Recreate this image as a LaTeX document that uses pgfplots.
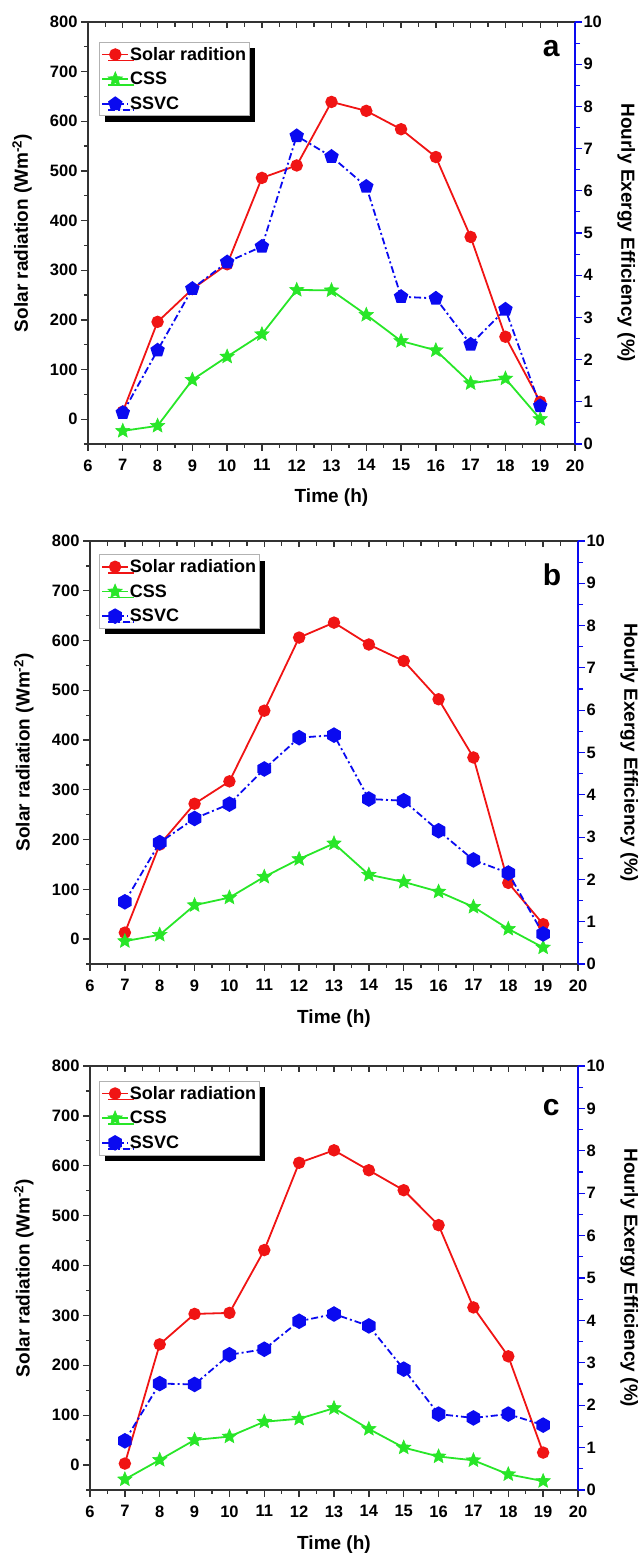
\documentclass[border=0pt]{standalone}
\usepackage{fontspec}
\setmainfont{Liberation Sans}
\usepackage{pgfplots}
\pgfplotsset{compat=1.18}
\usetikzlibrary{shadows}
\definecolor{cred}{RGB}{240,20,20}
\definecolor{cgreen}{RGB}{40,230,40}
\definecolor{cblue}{RGB}{10,10,240}
\newcommand\tickf{\fontsize{16.5}{19}\selectfont\bfseries}
\newcommand\labf{\fontsize{19}{22}\selectfont\bfseries}
\newcommand\legf{\fontsize{18}{21}\selectfont\bfseries}
\pgfdeclareplotmark{hexa}{%
  \pgfpathmoveto{\pgfpointpolar{90}{\pgfplotmarksize}}%
  \pgfpathlineto{\pgfpointpolar{150}{\pgfplotmarksize}}%
  \pgfpathlineto{\pgfpointpolar{210}{\pgfplotmarksize}}%
  \pgfpathlineto{\pgfpointpolar{270}{\pgfplotmarksize}}%
  \pgfpathlineto{\pgfpointpolar{330}{\pgfplotmarksize}}%
  \pgfpathlineto{\pgfpointpolar{30}{\pgfplotmarksize}}%
  \pgfpathclose\pgfusepathqfillstroke}
\pgfdeclareplotmark{fstar}{%
  \pgfpathmoveto{\pgfpointpolar{90}{\pgfplotmarksize}}%
  \pgfpathlineto{\pgfpointpolar{126}{0.45\pgfplotmarksize}}%
  \pgfpathlineto{\pgfpointpolar{162}{\pgfplotmarksize}}%
  \pgfpathlineto{\pgfpointpolar{198}{0.45\pgfplotmarksize}}%
  \pgfpathlineto{\pgfpointpolar{234}{\pgfplotmarksize}}%
  \pgfpathlineto{\pgfpointpolar{270}{0.45\pgfplotmarksize}}%
  \pgfpathlineto{\pgfpointpolar{306}{\pgfplotmarksize}}%
  \pgfpathlineto{\pgfpointpolar{342}{0.45\pgfplotmarksize}}%
  \pgfpathlineto{\pgfpointpolar{18}{\pgfplotmarksize}}%
  \pgfpathlineto{\pgfpointpolar{54}{0.45\pgfplotmarksize}}%
  \pgfpathclose\pgfusepathqfillstroke}
\pgfplotsset{
  base/.style={scale only axis, anchor=south west, xmin=6, xmax=20, clip=false},
  leftax/.style={base, ymin=-50, ymax=800,
    ytick={0,100,...,800}, minor ytick={-50,50,...,750},
    xtick={6,...,20}, minor xtick={6.5,7.5,...,19.5},
    axis x line*=bottom, axis y line*=left, tick align=outside,
    major tick length=7pt, minor tick length=4pt,
    axis line style={line width=1.8pt, black!80},
    every tick/.style={line width=1.3pt, black!80},
    tick label style={font=\tickf}, /pgf/number format/assume math mode=true,
    xticklabel style={yshift=-5pt},
    xlabel={Time (h)}, ylabel={Solar radiation (Wm\textsuperscript{-2})},
    xlabel style={at={(rel axis cs:0.5,-0.128)}, anchor=center, font=\labf},
    ylabel style={at={(rel axis cs:-0.1355,0.5)}, anchor=center, font=\labf}},
  topax/.style={base, ymin=0, ymax=10, hide y axis, axis x line*=top,
    xtick={6,...,20}, minor xtick={6.5,7.5,...,19.5}, xticklabels={},
    tick align=inside, major tick length=6pt, minor tick length=5pt,
    axis line style={line width=1.8pt, black!80},
    every tick/.style={line width=1.3pt, black!80}},
  rightax/.style={base, ymin=0, ymax=10, hide x axis, axis y line*=right,
    ytick={0,...,10}, minor ytick={0.5,1.5,...,9.5}, tick align=outside,
    major tick length=7pt, minor tick length=5pt,
    axis line style={line width=1.2pt, cblue},
    every tick/.style={line width=1.1pt, cblue},
    yticklabel style={font=\tickf, black, xshift=-2pt},
    /pgf/number format/assume math mode=true,
    ylabel={Hourly Exergy Efficiency (\%)},
    ylabel style={at={(rel axis cs:1.105,0.5)}, anchor=center, rotate=180, font=\labf},
    legend cell align=left,
    legend image code/.code={\draw[mark repeat=2,mark phase=2,##1] plot coordinates {(0pt,0pt) (13pt,0pt) (26pt,0pt)};},
    legend style={anchor=north west, draw=gray!60, line width=0.8pt, fill=white,
      font=\legf, inner xsep=2pt, inner ysep=4pt, row sep=8.5pt,
      nodes={inner sep=1pt},
      drop shadow={shadow xshift=6pt, shadow yshift=-6pt, fill=black, opacity=1}}},
  solar/.style={cred, line width=1.8pt, mark=*, mark size=5.3pt, mark options={solid, fill=cred, draw=cred}},
  css/.style={cgreen, line width=1.8pt, mark=fstar, mark size=7.5pt, mark options={solid, fill=cgreen, draw=cgreen, line width=0.6pt}},
  ssvcA/.style={cblue, line width=1.8pt, dash pattern=on 7pt off 3pt on 2pt off 3pt, mark=pentagon*, mark size=6.5pt, mark options={solid, fill=cblue, draw=cblue}},
  ssvcB/.style={cblue, line width=1.8pt, dash pattern=on 7pt off 3pt on 2pt off 3pt, mark=hexa, mark size=6.8pt, mark options={solid, fill=cblue, draw=cblue}},
}
\begin{document}
\begin{tikzpicture}
\useasboundingbox (0,0) rectangle (640pt,1553pt);
% ---------- panel a ----------
\begin{axis}[leftax, at={(88pt,1109pt)}, width=487pt, height=422pt]
\addplot[solar] coordinates {(7,15)(8,196)(9,262)(10,312)(11,486)(12,511)(13,639)(14,621)(15,584)(16,528)(17,367)(18,166)(19,35)};
\node at (rel axis cs:0.951,0.938) {\fontsize{30}{30}\selectfont\bfseries a};
\end{axis}
\begin{axis}[topax, at={(88pt,1109pt)}, width=487pt, height=422pt]
\end{axis}
\begin{axis}[rightax, at={(88pt,1109pt)}, width=487pt, height=422pt,
  legend style={at={(rel axis cs:0.0226,0.953)}}]
\addlegendimage{solar}
\addlegendentry{Solar radition}
\addplot[css] coordinates {(7,0.31)(8,0.43)(9,1.52)(10,2.07)(11,2.60)(12,3.65)(13,3.64)(14,3.06)(15,2.44)(16,2.22)(17,1.44)(18,1.55)(19,0.59)};
\addlegendentry{CSS}
\addplot[ssvcA] coordinates {(7,0.74)(8,2.22)(9,3.68)(10,4.31)(11,4.68)(12,7.30)(13,6.81)(14,6.10)(15,3.49)(16,3.45)(17,2.36)(18,3.19)(19,0.90)};
\addlegendentry{SSVC}
\end{axis}
% ---------- panel b ----------
\begin{axis}[leftax, at={(90pt,589pt)}, width=488pt, height=423pt]
\addplot[solar] coordinates {(7,13)(8,190)(9,272)(10,317)(11,459)(12,606)(13,636)(14,592)(15,559)(16,482)(17,365)(18,113)(19,30)};
\node at (rel axis cs:0.947,0.920) {\fontsize{30}{30}\selectfont\bfseries b};
\end{axis}
\begin{axis}[topax, at={(90pt,589pt)}, width=488pt, height=423pt]
\end{axis}
\begin{axis}[rightax, at={(90pt,589pt)}, width=488pt, height=423pt,
  legend style={at={(rel axis cs:0.018,0.969)}}]
\addlegendimage{solar}
\addlegendentry{Solar radiation}
\addplot[css] coordinates {(7,0.54)(8,0.69)(9,1.39)(10,1.57)(11,2.06)(12,2.48)(13,2.85)(14,2.11)(15,1.94)(16,1.71)(17,1.35)(18,0.83)(19,0.39)};
\addlegendentry{CSS}
\addplot[ssvcB] coordinates {(7,1.47)(8,2.87)(9,3.44)(10,3.78)(11,4.61)(12,5.35)(13,5.41)(14,3.90)(15,3.86)(16,3.15)(17,2.46)(18,2.15)(19,0.71)};
\addlegendentry{SSVC}
\end{axis}
% ---------- panel c ----------
\begin{axis}[leftax, at={(90pt,63pt)}, width=488pt, height=424pt]
\addplot[solar] coordinates {(7,3)(8,242)(9,303)(10,305)(11,431)(12,606)(13,631)(14,591)(15,551)(16,481)(17,316)(18,218)(19,25)};
\node at (rel axis cs:0.945,0.901) {\fontsize{30}{30}\selectfont\bfseries c};
\end{axis}
\begin{axis}[topax, at={(90pt,63pt)}, width=488pt, height=424pt]
\end{axis}
\begin{axis}[rightax, at={(90pt,63pt)}, width=488pt, height=424pt,
  legend style={at={(rel axis cs:0.018,0.965)}}]
\addlegendimage{solar}
\addlegendentry{Solar radiation}
\addplot[css] coordinates {(7,0.25)(8,0.71)(9,1.18)(10,1.26)(11,1.61)(12,1.68)(13,1.93)(14,1.44)(15,1.00)(16,0.79)(17,0.70)(18,0.37)(19,0.21)};
\addlegendentry{CSS}
\addplot[ssvcB] coordinates {(7,1.16)(8,2.51)(9,2.49)(10,3.19)(11,3.32)(12,3.98)(13,4.15)(14,3.87)(15,2.85)(16,1.79)(17,1.70)(18,1.79)(19,1.53)};
\addlegendentry{SSVC}
\end{axis}
\end{tikzpicture}
\end{document}
